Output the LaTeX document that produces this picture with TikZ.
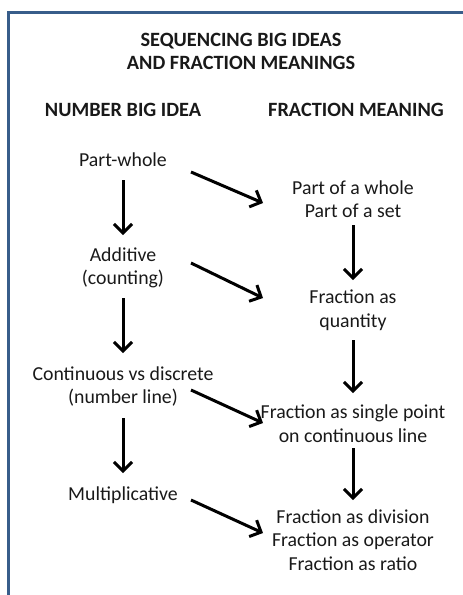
\documentclass[tikz,border=0pt]{standalone}
\usepackage{fontspec}
\setmainfont{Carlito}
\usetikzlibrary{arrows.meta, positioning}
\definecolor{framecol}{RGB}{56,93,138}
\definecolor{inkcol}{RGB}{25,25,25}

\begin{document}
\begin{tikzpicture}[
    x=1pt, y=1pt,
    on grid,
    every node/.style={
        align=center,
        text=inkcol,
        font=\fontsize{19.8}{23.5}\selectfont
    },
    heading/.style={font=\fontsize{20.3}{23.5}\selectfont\bfseries},
    arr/.style={
        draw=black,
        line width=3pt,
        -{Straight Barb[length=9pt,width=18pt]}
    }
]
\useasboundingbox (0,0) rectangle (463,-595);

% frame (only top and left edge show)
\draw[framecol, line width=3pt] (8.5,-595) -- (8.5,-12.5) -- (463,-12.5);

% ---------------- HEADINGS ----------------
\node[heading] (title)  at (241,-51.5) {SEQUENCING BIG IDEAS\\AND FRACTION MEANINGS};
\node[heading] (hleft)  at (123,-110)  {NUMBER BIG IDEA};
\node[heading] (hright) at (356,-110)  {FRACTION MEANING};

% ---------------- NUMBER BIG IDEA ----------------
\node (pw)    [below       =50pt           of hleft] {Part-whole};
\node (add)   [below       =108pt          of pw]    {Additive\\(counting)};
\node (cont)  [below       =118.5pt        of add]   {Continuous vs discrete\\(number line)};
\node (mult)  [below       =108.5pt        of cont]  {Multiplicative};

% ---------------- FRACTION MEANING ----------------
\node (part)  [below right =39pt and 230pt of pw]    {Part of a whole\\Part of a set};
\node (qty)   [below       =111pt          of part]  {Fraction as\\quantity};
\node (point) [below       =113.5pt        of qty]   {Fraction as single point\\on continuous line};
\node (div)   [below       =116.5pt        of point] {Fraction as division\\Fraction as operator\\Fraction as ratio};

% down the left column
\draw[arr] ([yshift=-20pt]pw.center)     -- ([yshift=33pt]add.center);
\draw[arr] ([yshift=-30pt]add.center)    -- ([yshift=33.5pt]cont.center);
\draw[arr] ([yshift=-31.5pt]cont.center) -- ([yshift=22pt]mult.center);

% down the right column
\draw[arr] ([yshift=-26pt]part.center)   -- ([yshift=30pt]qty.center);
\draw[arr] ([yshift=-30pt]qty.center)    -- ([yshift=30.5pt]point.center);
\draw[arr] ([yshift=-24.5pt]point.center) -- ([yshift=40pt]div.center);

% big idea -> fraction meaning
\draw[arr] ([shift={(68,-12)}]pw.center)  -- ([shift={(-90,-4)}]part.center);
\draw[arr] ([shift={(68,5)}]add.center)   -- ([shift={(-90,12)}]qty.center);
\draw[arr] ([shift={(68,-3.5)}]cont.center) -- ([shift={(-90,0.5)}]point.center);
\draw[arr] ([shift={(68,-5)}]mult.center) -- ([shift={(-90,7)}]div.center);

\end{tikzpicture}
\end{document}
